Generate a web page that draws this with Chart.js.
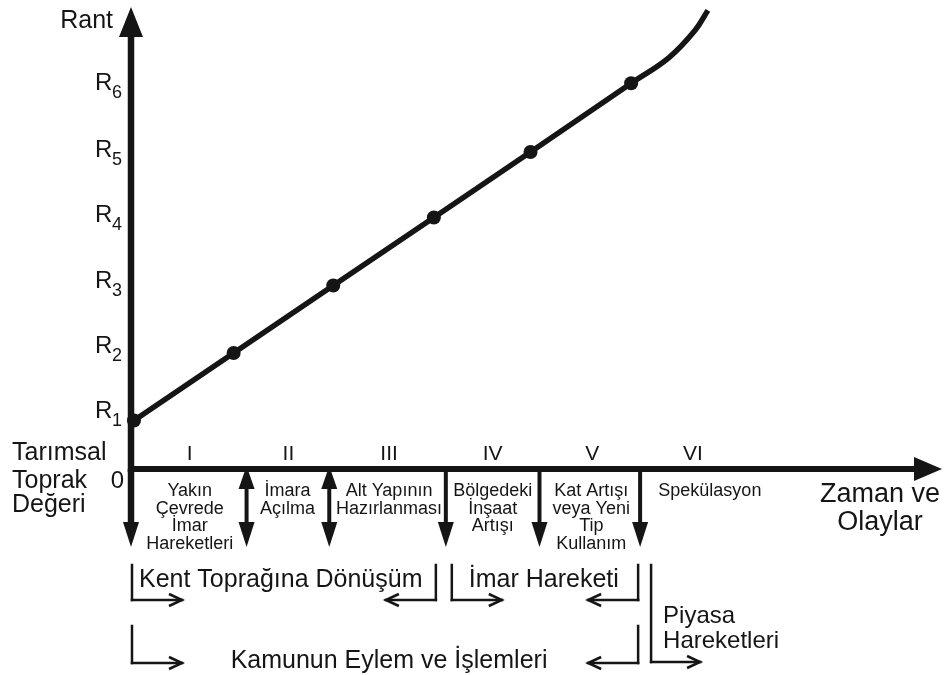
<!DOCTYPE html>
<html lang="tr">
<head>
<meta charset="utf-8">
<title>Rant ve Zaman</title>
<script src="https://cdn.jsdelivr.net/npm/chart.js@4.4.1/dist/chart.umd.min.js"></script>
<style>
    html, body { margin: 0; padding: 0; background: #fff; }
    canvas { display: block; }
</style>
</head>
<body>
<canvas id="rentChart" width="949" height="675"></canvas>
<script>
// rent line: stage points (x = time / events, y = rent level)
const stageX = [0.03, 1.03, 2.03, 3.04, 4.01, 5.02];
const rentY = [0.72, 1.72, 2.72, 3.73, 4.70, 5.72];

// speculation tail after R6
const tailX = [5.02, 5.40, 5.66, 5.79];
const tailY = [5.72, 6.10, 6.50, 6.80];

// y tick labels R1..R6 (value = label baseline)
const rentTickLabels = ["1", "2", "3", "4", "5", "6"];
const rentTickY = [0.76, 1.72, 2.69, 3.66, 4.62, 5.62];

// stages above the time axis
const romanLabels = ["I", "II", "III", "IV", "V", "VI"];
const romanX = [0.59, 1.58, 2.59, 3.63, 4.63, 5.64];

// event arrows below the time axis
const eventX = [0, 1.16, 1.99, 3.16, 4.10, 5.11];
const eventArrow = ["down", "both", "both", "down", "down", "down"];
const eventLabels = [
    ["Yakın", "Çevrede", "İmar", "Hareketleri"],
    ["İmara", "Açılma"],
    ["Alt Yapının", "Hazırlanması"],
    ["Bölgedeki", "İnşaat", "Artışı"],
    ["Kat Artışı", "veya Yeni", "Tip", "Kullanım"],
    ["Spekülasyon"]
];
const eventLabelX = [0.59, 1.57, 2.59, 3.63, 4.62, 5.81];

// bracket groups under the events
const groupLabels = ["Kent Toprağına Dönüşüm", "İmar Hareketi", "Kamunun Eylem ve İşlemleri"];
const groupFrom = [0.01, 3.22, 0.01];
const groupTo = [3.06, 5.09, 5.09];
const marketX = 5.22;
const marketLabel = ["Piyasa", "Hareketleri"];

const INK = "#151515";
const FONT = "'Liberation Sans', Arial, Helvetica, sans-serif";

function line(ctx, x1, y1, x2, y2, w) {
    ctx.lineWidth = w;
    ctx.beginPath();
    ctx.moveTo(x1, y1);
    ctx.lineTo(x2, y2);
    ctx.stroke();
}

function tri(ctx, pts) {
    ctx.beginPath();
    ctx.moveTo(pts[0], pts[1]);
    ctx.lineTo(pts[2], pts[3]);
    ctx.lineTo(pts[4], pts[5]);
    ctx.closePath();
    ctx.fill();
}

// open arrow head (two strokes) pointing left (dir -1) or right (dir 1)
function openHead(ctx, x, y, dir) {
    ctx.lineWidth = 2.5;
    ctx.beginPath();
    ctx.moveTo(x - dir * 13, y - 6);
    ctx.lineTo(x, y);
    ctx.lineTo(x - dir * 13, y + 6);
    ctx.stroke();
}

function text(ctx, str, x, y, size, align) {
    ctx.font = size + "px " + FONT;
    ctx.textAlign = align || "center";
    ctx.textBaseline = "alphabetic";
    ctx.fillText(str, x, y);
}

const diagramPlugin = {
    id: "diagram",
    afterDraw(chart) {
        const ctx = chart.ctx;
        const xs = chart.scales.x;
        const ys = chart.scales.y;
        const x0 = xs.getPixelForValue(0);
        const y0 = ys.getPixelForValue(0);
        const top = ys.getPixelForValue(ys.max);
        const right = xs.getPixelForValue(xs.max);

        ctx.save();
        ctx.strokeStyle = INK;
        ctx.fillStyle = INK;
        ctx.lineCap = "butt";

        // axes with arrows
        line(ctx, x0, y0 + 3, x0, top + 28, 6.5);
        tri(ctx, [x0, top, x0 - 12, top + 30, x0 + 12, top + 30]);
        line(ctx, x0 - 3, y0, right - 26, y0, 6);
        tri(ctx, [right, y0, right - 28, y0 - 12, right - 28, y0 + 12]);

        // axis titles
        text(ctx, "Rant", x0 - 18, 28, 25, "right");
        text(ctx, "Tarımsal", 12, 460, 25, "left");
        text(ctx, "Toprak", 12, 488, 25, "left");
        text(ctx, "Değeri", 12, 512, 25, "left");
        text(ctx, "0", x0 - 7, 488, 24, "right");
        text(ctx, "Zaman ve", 880, 502, 27);
        text(ctx, "Olaylar", 880, 530, 27);

        // R tick labels with subscripts
        rentTickLabels.forEach(function (lab, i) {
            const y = ys.getPixelForValue(rentTickY[i]);
            text(ctx, "R", x0 - 36, y, 24, "left");
            text(ctx, lab, x0 - 19, y + 8, 18, "left");
        });

        // roman numerals
        romanLabels.forEach(function (lab, i) {
            text(ctx, lab, xs.getPixelForValue(romanX[i]), 460, 21);
        });

        // event arrows
        const arrowEnd = 547;
        eventX.forEach(function (v, i) {
            const x = xs.getPixelForValue(v);
            if (eventArrow[i] === "both") {
                line(ctx, x, y0 + 16, x, arrowEnd - 20, 4);
                tri(ctx, [x, y0 - 3, x - 8, y0 + 20, x + 8, y0 + 20]);
            } else {
                line(ctx, x, y0, x, arrowEnd - 20, i === 0 ? 6.5 : 4);
            }
            tri(ctx, [x, arrowEnd, x - 8, arrowEnd - 25, x + 8, arrowEnd - 25]);
        });

        // event labels
        eventLabels.forEach(function (lines, i) {
            const x = xs.getPixelForValue(eventLabelX[i]);
            lines.forEach(function (str, j) {
                text(ctx, str, x, 496 + j * 17.5, 18);
            });
        });

        // bracket groups
        const rows = [[565, 600, 587], [565, 600, 587], [626, 663, 668]];
        groupLabels.forEach(function (lab, i) {
            const xa = xs.getPixelForValue(groupFrom[i]);
            const xb = xs.getPixelForValue(groupTo[i]);
            const r = rows[i];
            ctx.lineCap = "square";
            line(ctx, xa, r[0], xa, r[1], 2.5);
            line(ctx, xa, r[1], xa + 50, r[1], 2.5);
            line(ctx, xb, r[0], xb, r[1], 2.5);
            line(ctx, xb, r[1], xb - 50, r[1], 2.5);
            ctx.lineCap = "butt";
            openHead(ctx, xa + 50, r[1], 1);
            openHead(ctx, xb - 50, r[1], -1);
            if (i === 2) {
                text(ctx, lab, xs.getPixelForValue(2.59), r[2], 25);
            } else {
                text(ctx, lab, xa + (i === 0 ? 7 : 17), r[2], 25, "left");
            }
        });

        // market movements
        const xm = xs.getPixelForValue(marketX);
        ctx.lineCap = "square";
        line(ctx, xm, 565, xm, 662, 2.5);
        line(ctx, xm, 662, xm + 49, 662, 2.5);
        ctx.lineCap = "butt";
        openHead(ctx, xm + 49, 662, 1);
        text(ctx, marketLabel[0], xm + 12, 623, 24, "left");
        text(ctx, marketLabel[1], xm + 12, 648, 24, "left");

        ctx.restore();
    }
};

new Chart(document.getElementById("rentChart"), {
    type: "line",
    data: {
        datasets: [{
            label: "Rant",
            data: stageX.map(function (x, i) { return { x: x, y: rentY[i] }; }),
            borderColor: INK,
            backgroundColor: INK,
            borderWidth: 5.5,
            pointRadius: 7,
            pointHoverRadius: 7,
            pointBorderWidth: 0,
            tension: 0,
            clip: false
        }, {
            label: "Spekülasyon",
            data: tailX.map(function (x, i) { return { x: x, y: tailY[i] }; }),
            borderColor: INK,
            borderWidth: 5.5,
            borderCapStyle: "butt",
            pointRadius: 0,
            tension: 0.4,
            clip: false
        }]
    },
    options: {
        responsive: false,
        animation: false,
        events: [],
        layout: { padding: { left: 131, top: 3, right: 4, bottom: 206 } },
        plugins: {
            legend: { display: false },
            tooltip: { enabled: false }
        },
        scales: {
            x: { type: "linear", min: 0, max: 8.14, display: false },
            y: { type: "linear", min: 0, max: 6.85, display: false }
        }
    },
    plugins: [diagramPlugin]
});
</script>
</body>
</html>
